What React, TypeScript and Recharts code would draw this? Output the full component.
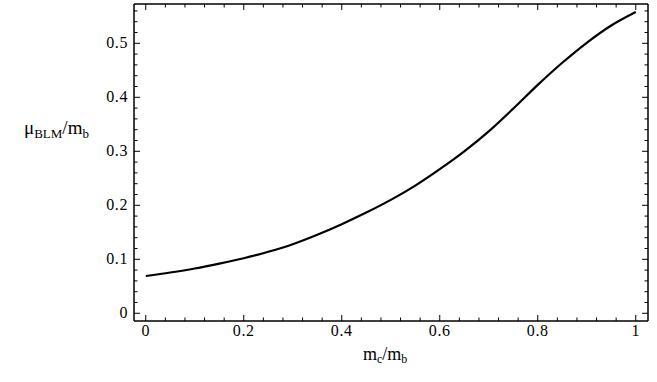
import { LineChart, Line, XAxis, YAxis } from 'recharts';

const mcOverMb = [0, 0.05, 0.1, 0.15, 0.2, 0.25, 0.3, 0.35, 0.4, 0.45, 0.5, 0.55, 0.6, 0.65, 0.7, 0.75, 0.8, 0.85, 0.9, 0.95, 1];
const muOverMb = [0.069, 0.0755, 0.083, 0.092, 0.102, 0.114, 0.128, 0.1455, 0.165, 0.1865, 0.21, 0.2365, 0.267, 0.3, 0.337, 0.379, 0.423, 0.464, 0.501, 0.533, 0.558];

const xMajor = [0, 0.2, 0.4, 0.6, 0.8, 1];
const xMinor = [0, 0.04, 0.08, 0.12, 0.16, 0.2, 0.24, 0.28, 0.32, 0.36, 0.4, 0.44, 0.48, 0.52, 0.56, 0.6, 0.64, 0.68, 0.72, 0.76, 0.8, 0.84, 0.88, 0.92, 0.96, 1];
const yMajor = [0, 0.1, 0.2, 0.3, 0.4, 0.5];
const yMinor = [0, 0.02, 0.04, 0.06, 0.08, 0.1, 0.12, 0.14, 0.16, 0.18, 0.2, 0.22, 0.24, 0.26, 0.28, 0.3, 0.32, 0.34, 0.36, 0.38, 0.4, 0.42, 0.44, 0.46, 0.48, 0.5, 0.52, 0.54, 0.56];

const xDomain = [-0.024, 1.025];
const yDomain = [-0.0143, 0.5728];

const data = mcOverMb.map((x, i) => ({ x, y: muOverMb[i] }));

const serif = { fontFamily: "'Liberation Serif', 'Times New Roman', serif" };

const isMajor = (v: number, majors: number[]) => majors.some((m) => Math.abs(m - v) < 1e-6);

// tick line pointing into the plot, label outside
function makeTick(side: 'bottom' | 'top' | 'left' | 'right', majors: number[]) {
  return (props: any) => {
    const { x, y, payload } = props;
    const v = payload.value as number;
    const major = isMajor(v, majors);
    const len = major ? 6 : 3.5;
    let line;
    if (side === 'bottom') line = <line x1={x} y1={y} x2={x} y2={y - len} stroke="#000" strokeWidth={1} />;
    else if (side === 'top') line = <line x1={x} y1={y} x2={x} y2={y + len} stroke="#000" strokeWidth={1} />;
    else if (side === 'left') line = <line x1={x} y1={y} x2={x + len} y2={y} stroke="#000" strokeWidth={1} />;
    else line = <line x1={x} y1={y} x2={x - len} y2={y} stroke="#000" strokeWidth={1} />;
    let label = null;
    if (major && side === 'bottom') {
      label = (
        <text x={x} y={y + 15} textAnchor="middle" style={serif} fontSize={16} letterSpacing={0.6} fill="#000">
          {String(v)}
        </text>
      );
    }
    if (major && side === 'left') {
      label = (
        <text x={x - 6} y={y + 5} textAnchor="end" style={serif} fontSize={16} letterSpacing={0.6} fill="#000">
          {String(v)}
        </text>
      );
    }
    return (
      <g>
        {line}
        {label}
      </g>
    );
  };
}

export default function App() {
  return (
    <div style={{ position: 'absolute', left: 0, top: 0, width: 657, height: 382, background: '#fff' }}>
      <LineChart width={657} height={382} data={data} margin={{ top: 3, right: 8, bottom: 60, left: 133 }}>
        <XAxis
          xAxisId="b"
          dataKey="x"
          type="number"
          orientation="bottom"
          domain={xDomain}
          allowDataOverflow
          ticks={xMinor}
          interval={0}
          height={1}
          tickSize={0}
          tickMargin={0}
          tickLine={false}
          tick={makeTick('bottom', xMajor)}
          axisLine={{ stroke: '#000', strokeWidth: 1.5 }}
        />
        <XAxis
          xAxisId="t"
          dataKey="x"
          type="number"
          orientation="top"
          domain={xDomain}
          allowDataOverflow
          ticks={xMinor}
          interval={0}
          height={1}
          tickSize={0}
          tickMargin={0}
          tickLine={false}
          tick={makeTick('top', xMajor)}
          axisLine={{ stroke: '#000', strokeWidth: 1.5 }}
        />
        <YAxis
          yAxisId="l"
          type="number"
          orientation="left"
          domain={yDomain}
          allowDataOverflow
          ticks={yMinor}
          interval={0}
          width={1}
          tickSize={0}
          tickMargin={0}
          tickLine={false}
          tick={makeTick('left', yMajor)}
          axisLine={{ stroke: '#000', strokeWidth: 1.5 }}
        />
        <YAxis
          yAxisId="r"
          type="number"
          orientation="right"
          domain={yDomain}
          allowDataOverflow
          ticks={yMinor}
          interval={0}
          width={1}
          tickSize={0}
          tickMargin={0}
          tickLine={false}
          tick={makeTick('right', yMajor)}
          axisLine={{ stroke: '#000', strokeWidth: 1.5 }}
        />
        <Line
          xAxisId="b"
          yAxisId="l"
          dataKey="y"
          type="monotone"
          stroke="#000"
          strokeWidth={2.2}
          dot={false}
          isAnimationActive={false}
        />
        <Line
          xAxisId="t"
          yAxisId="r"
          dataKey="y"
          type="monotone"
          stroke="none"
          dot={false}
          isAnimationActive={false}
        />
        <text x={24} y={134} style={serif} fontSize={19} fill="#000">
          μ
          <tspan fontSize={13} dy={4}>BLM</tspan>
          <tspan fontSize={19} dy={-4}>/m</tspan>
          <tspan fontSize={13} dy={4}>b</tspan>
        </text>
        <text x={363} y={360} style={serif} fontSize={18} fill="#000">
          m
          <tspan fontSize={12} dy={3}>c</tspan>
          <tspan fontSize={18} dy={-3}>/m</tspan>
          <tspan fontSize={12} dy={3}>b</tspan>
        </text>
      </LineChart>
    </div>
  );
}
